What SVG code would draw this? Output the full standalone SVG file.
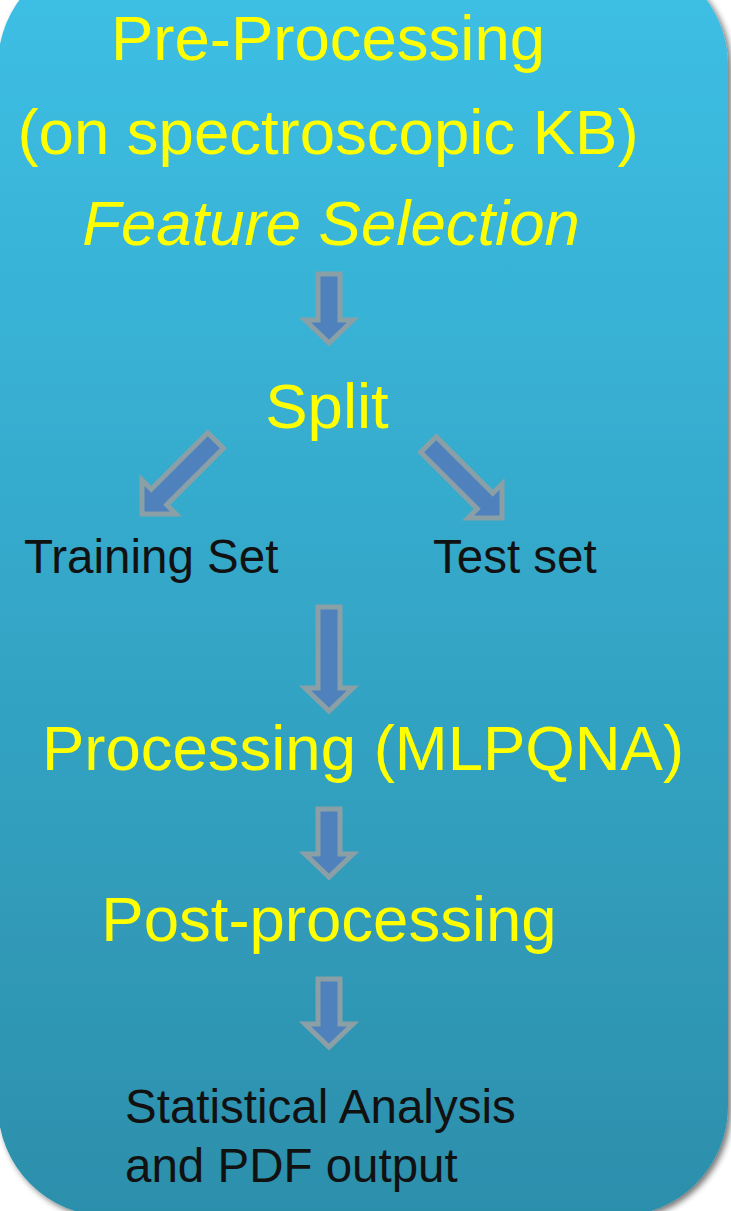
<svg xmlns="http://www.w3.org/2000/svg" width="731" height="1211" viewBox="0 0 731 1211">
  <defs>
    <linearGradient id="bg" x1="0" y1="0" x2="0" y2="1">
      <stop offset="0" stop-color="#3dc0e6"/>
      <stop offset="1" stop-color="#2c8fab"/>
    </linearGradient>
    <filter id="shadow" x="-10%" y="-10%" width="120%" height="120%">
      <feGaussianBlur in="SourceAlpha" stdDeviation="3"/>
      <feOffset dx="3" dy="3" result="b"/>
      <feComponentTransfer><feFuncA type="linear" slope="0.55"/></feComponentTransfer>
      <feMerge><feMergeNode/><feMergeNode in="SourceGraphic"/></feMerge>
    </filter>
    <polygon id="diag" points="-11,-104 11,-104 11,-24 24,-24 0,0 -24,-24 -11,-24"/>
  </defs>
  <style>
    .y { font-family: "Liberation Sans", Arial, sans-serif; font-size: 63.5px; fill: #ffff00; text-anchor: middle; }
    .k { font-family: "Liberation Sans", Arial, sans-serif; font-size: 47.5px; fill: #111111; }
    .arr { fill: #4f81bd; stroke: #8aa0a6; stroke-width: 5; stroke-linejoin: miter; }
  </style>
  <rect width="731" height="1211" fill="#ffffff"/>
  <g id="panel">
    <rect x="-2" y="-45" width="730" height="1261" rx="110" ry="110" fill="url(#bg)" filter="url(#shadow)"/>
  </g>
  <g id="preprocessing">
    <text class="y" x="328" y="60">Pre-Processing</text>
    <text class="y" x="328" y="154">(on spectroscopic KB)</text>
    <text class="y" x="331" y="245" font-style="italic">Feature Selection</text>
  </g>
  <g id="split">
    <text class="y" x="327" y="428">Split</text>
  </g>
  <g id="training">
    <text class="k" x="24" y="573">Training Set</text>
  </g>
  <g id="test">
    <text class="k" x="433" y="573">Test set</text>
  </g>
  <g id="processing">
    <text class="y" x="363" y="770">Processing (MLPQNA)</text>
  </g>
  <g id="postprocessing">
    <text class="y" x="329" y="941">Post-processing</text>
  </g>
  <g id="stats">
    <text class="k" x="125" y="1123">Statistical Analysis</text>
    <text class="k" x="125" y="1182">and PDF output</text>
  </g>
  <g id="connectors">
    <polygon class="arr" points="318,274 340,274 340,320 353,320 329,343 305,320 318,320"/>
    <use href="#diag" class="arr" transform="translate(142,514) rotate(45)"/>
    <use href="#diag" class="arr" transform="translate(502,518) rotate(-45)"/>
    <polygon class="arr" points="318,607 340,607 340,688 353,688 329,711 305,688 318,688"/>
    <polygon class="arr" points="318,809 340,809 340,854 353,854 329,877 305,854 318,854"/>
    <polygon class="arr" points="318,979 340,979 340,1024 353,1024 329,1047 305,1024 318,1024"/>
  </g>
</svg>
